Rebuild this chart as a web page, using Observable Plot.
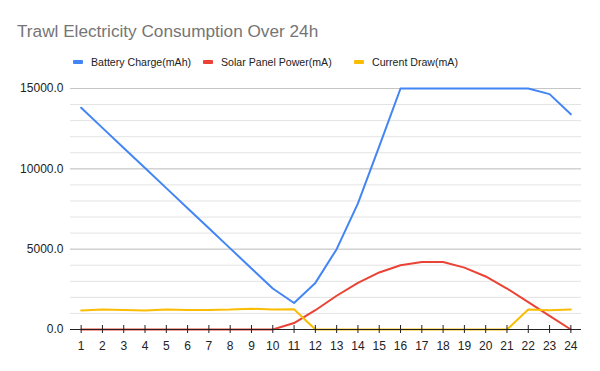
<!DOCTYPE html>
<html>
<head>
<meta charset="utf-8">
<script src="https://cdn.jsdelivr.net/npm/d3@7"></script>
<script src="https://cdn.jsdelivr.net/npm/@observablehq/plot@0.6"></script>
<style>
  html, body { margin: 0; padding: 0; background: #fff; }
  #wrap { position: relative; width: 600px; height: 371px; font-family: "Liberation Sans", Arial, sans-serif; }
  #title { position: absolute; left: 17px; top: 21px; font-size: 17.2px; color: #757575; white-space: nowrap; }
  #legend { position: absolute; top: 55px; left: 0; width: 600px; height: 16px; font-size: 10.6px; color: #222; }
  .item { position: absolute; top: 0; white-space: nowrap; line-height: 14px; }
  .sw { position: absolute; top: 5px; width: 10px; height: 4px; border-radius: 1px; }
  #chart { position: absolute; left: 0; top: 0; }
</style>
</head>
<body>
<div id="wrap">
  <div id="chart"></div>
  <div id="title">Trawl Electricity Consumption Over 24h</div>
  <div id="legend"></div>
</div>
<script>
const hours = d3.range(1, 25);
const battery = [13800, 12550, 11300, 10050, 8800, 7550, 6300, 5050, 3800, 2550, 1650, 2900, 5000, 7850, 11400, 15000, 15000, 15000, 15000, 15000, 15000, 15000, 14650, 13400];
const solar = [0, 0, 0, 0, 0, 0, 0, 0, 0, 0, 400, 1200, 2100, 2900, 3550, 4000, 4200, 4200, 3850, 3300, 2550, 1700, 850, 0];
const draw = [1180, 1250, 1220, 1180, 1250, 1220, 1220, 1240, 1290, 1250, 1260, 0, 0, 0, 0, 0, 0, 0, 0, 0, 0, 1250, 1200, 1240];
const seriesNames = ["Battery Charge(mAh)", "Solar Panel Power(mA)", "Current Draw(mA)"];
const seriesColors = ["#4285F4", "#EA4335", "#FBBC04"];
const yTicks = [0, 5000, 10000, 15000];
const yMinor = d3.range(0, 15001, 1000);

const seriesValues = [battery, solar, draw];
const rows = [];
seriesNames.forEach((name, i) => {
  hours.forEach((h, j) => rows.push({series: name, hour: h, value: seriesValues[i][j]}));
});

const chart = Plot.plot({
  width: 600,
  height: 371,
  marginTop: 88,
  marginBottom: 42,
  marginLeft: 70,
  marginRight: 19,
  style: {fontFamily: "Liberation Sans, Arial, sans-serif", fontSize: "12px", color: "#222", background: "transparent"},
  x: {type: "point", domain: hours, padding: 0.5, round: false},
  y: {domain: [0, 15000]},
  color: {domain: seriesNames, range: seriesColors},
  marks: [
    Plot.gridY(yMinor, {stroke: "#e3e3e3", strokeOpacity: 1}),
    Plot.gridY(yTicks, {stroke: "#c6c6c6", strokeOpacity: 1}),
    Plot.axisY(yTicks, {tickSize: 0, tickPadding: 7, tickFormat: d3.format(".1f"), label: null, fill: "#222"}),
    Plot.line(rows, {x: "hour", y: "value", z: "series", stroke: "series", strokeWidth: 2, curve: "linear"}),
    Plot.ruleY([0], {stroke: "#222", strokeWidth: 1}),
    Plot.axisX(hours, {tickSize: 8, dy: -4, tickPadding: 8, label: null, stroke: "#222", fill: "#222"})
  ]
});
document.getElementById("chart").appendChild(chart);

const legend = document.getElementById("legend");
const lefts = [73, 203, 354];
seriesNames.forEach((name, i) => {
  const sw = document.createElement("div");
  sw.className = "sw";
  sw.style.left = lefts[i] + "px";
  sw.style.background = seriesColors[i];
  legend.appendChild(sw);
  const t = document.createElement("div");
  t.className = "item";
  t.style.left = (lefts[i] + 18) + "px";
  t.textContent = name;
  legend.appendChild(t);
});
</script>
</body>
</html>
